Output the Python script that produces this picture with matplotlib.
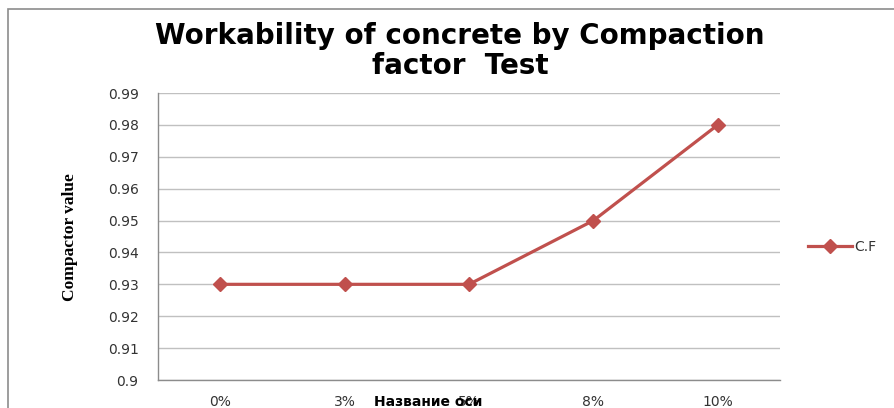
import matplotlib.pyplot as plt
from matplotlib.patches import Rectangle

categories = ['0%', '3%', '5%', '8%', '10%']
cf_values = [0.93, 0.93, 0.93, 0.95, 0.98]
y_ticks = [0.9, 0.91, 0.92, 0.93, 0.94, 0.95, 0.96, 0.97, 0.98, 0.99]
y_tick_labels = ['0.9', '0.91', '0.92', '0.93', '0.94', '0.95', '0.96', '0.97', '0.98', '0.99']

W, H = 895, 408
fig = plt.figure(figsize=(W / 100, H / 100), dpi=100)
fig.patch.set_facecolor('white')

# chart area border (cut off at right/bottom like the screenshot)
fig.add_artist(Rectangle((8 / W, -0.05), 1.2, (H - 9) / H + 0.05,
                         transform=fig.transFigure, fill=False,
                         edgecolor='#8C8C8C', linewidth=1.2))

ax = fig.add_axes([158 / W, 28 / H, (780 - 158) / W, (380 - 93) / H])
x = list(range(len(categories)))
line_color = '#C0504D'
ax.plot(x, cf_values, color=line_color, linewidth=2.3, marker='D',
        markersize=7, label='C.F')

ax.set_xlim(-0.5, len(categories) - 0.5)
ax.set_ylim(0.9, 0.99)
ax.set_yticks(y_ticks)
ax.set_yticklabels(y_tick_labels)
ax.set_xticks(x)
ax.set_xticklabels(categories)
ax.grid(axis='y', color='#C0C0C0', linewidth=1.0)
ax.set_axisbelow(True)
for side in ['top', 'right']:
    ax.spines[side].set_visible(False)
for side in ['left', 'bottom']:
    ax.spines[side].set_color('#8C8C8C')
    ax.spines[side].set_linewidth(1.0)
ax.tick_params(axis='both', length=0, labelsize=10, colors='#333333')
ax.tick_params(axis='y', pad=14)
ax.tick_params(axis='x', pad=11)

# title, two lines
fig.text(460 / W, 1 - 36 / H, 'Workability of concrete by Compaction',
         ha='center', va='center', fontsize=20, fontweight='bold',
         family='DejaVu Sans')
fig.text(460 / W, 1 - 66 / H, 'factor  Test',
         ha='center', va='center', fontsize=20, fontweight='bold',
         family='DejaVu Sans')

fig.text(70 / W, 1 - 237 / H, 'Compactor value', rotation=90, ha='center',
         va='center', fontsize=12.5, fontweight='bold', family='Liberation Serif')

fig.text(428 / W, 1 - 402 / H, 'Название оси', ha='center', va='center',
         fontsize=10, fontweight='bold', family='DejaVu Sans')

ax.legend(loc='center left', bbox_to_anchor=(808 / W, 1 - 247 / H),
          bbox_transform=fig.transFigure, frameon=False, fontsize=10,
          handlelength=3.2, handletextpad=0.1, borderaxespad=0,
          borderpad=0, labelcolor='#333333')

fig.savefig('out.png', dpi=100)
